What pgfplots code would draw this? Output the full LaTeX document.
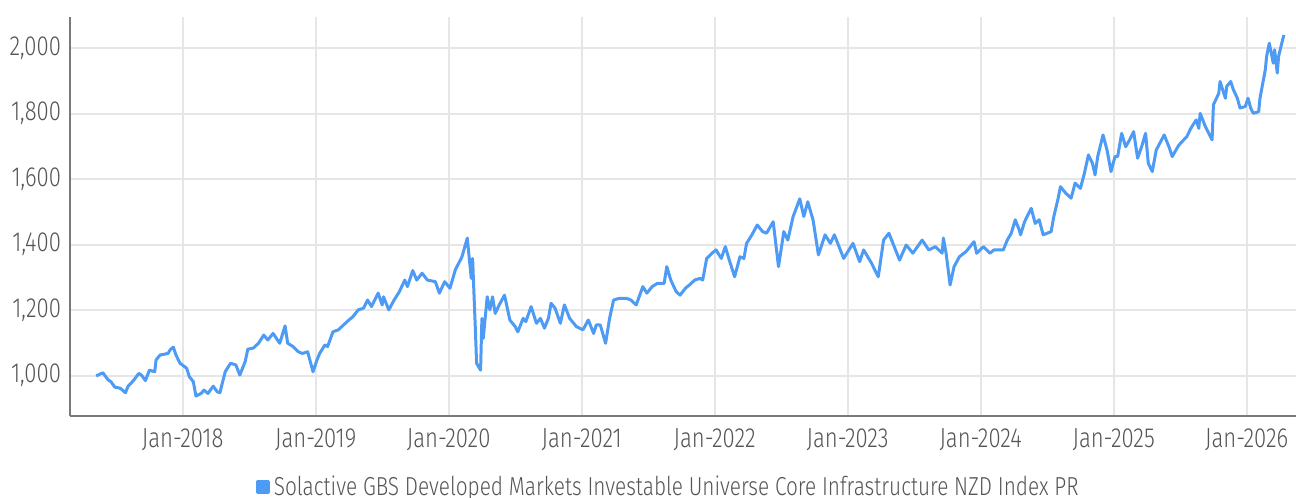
\documentclass[border=0pt]{standalone}
\usepackage{pgfplots}
\pgfplotsset{compat=1.18}
\usepackage{fontspec}
\setmainfont{Fira Sans Light}[FakeStretch=0.8]
\definecolor{lineblue}{HTML}{4D9BF5}
\definecolor{gridgray}{HTML}{E6E6E6}
\definecolor{axisgray}{HTML}{7A7A7A}
\definecolor{textgray}{HTML}{555555}

\pgfplotstableread{
x y
2017.35 999
2017.40 1009
2017.44 987
2017.46 982
2017.49 965
2017.53 962
2017.57 948
2017.59 968
2017.63 985
2017.67 1007
2017.69 1002
2017.72 985
2017.75 1017
2017.79 1012
2017.80 1048
2017.83 1063
2017.89 1068
2017.91 1081
2017.93 1087
2017.95 1063
2017.98 1038
2018.03 1023
2018.05 997
2018.08 982
2018.10 938
2018.14 946
2018.16 956
2018.19 946
2018.23 968
2018.26 951
2018.28 948
2018.32 1012
2018.36 1038
2018.40 1033
2018.43 1002
2018.47 1043
2018.49 1081
2018.53 1084
2018.57 1099
2018.61 1124
2018.64 1109
2018.68 1129
2018.70 1117
2018.73 1099
2018.77 1152
2018.79 1099
2018.83 1089
2018.87 1073
2018.90 1068
2018.94 1073
2018.98 1012
2019.01 1048
2019.03 1068
2019.07 1094
2019.09 1089
2019.13 1134
2019.17 1140
2019.21 1155
2019.25 1170
2019.28 1180
2019.32 1201
2019.36 1206
2019.39 1231
2019.42 1211
2019.47 1252
2019.50 1216
2019.51 1241
2019.55 1201
2019.59 1231
2019.63 1257
2019.67 1292
2019.69 1272
2019.73 1321
2019.76 1292
2019.80 1313
2019.84 1292
2019.90 1287
2019.93 1252
2019.97 1287
2020.01 1267
2020.05 1323
2020.10 1363
2020.14 1420
2020.17 1297
2020.18 1358
2020.20 1150
2020.21 1038
2020.24 1017
2020.25 1175
2020.26 1114
2020.29 1241
2020.31 1201
2020.33 1241
2020.35 1190
2020.38 1216
2020.42 1246
2020.46 1170
2020.50 1150
2020.52 1134
2020.56 1175
2020.58 1165
2020.62 1211
2020.66 1160
2020.69 1175
2020.72 1145
2020.75 1175
2020.77 1221
2020.80 1206
2020.84 1160
2020.87 1216
2020.91 1175
2020.96 1150
2021.01 1140
2021.05 1170
2021.09 1129
2021.11 1155
2021.14 1155
2021.18 1099
2021.21 1175
2021.24 1231
2021.28 1236
2021.34 1236
2021.37 1231
2021.41 1216
2021.46 1272
2021.49 1252
2021.53 1272
2021.57 1282
2021.62 1282
2021.64 1333
2021.67 1292
2021.71 1257
2021.74 1246
2021.78 1267
2021.81 1277
2021.85 1292
2021.89 1297
2021.91 1292
2021.94 1358
2021.98 1374
2022.01 1384
2022.05 1358
2022.08 1394
2022.11 1353
2022.15 1302
2022.19 1363
2022.22 1358
2022.24 1404
2022.28 1430
2022.32 1460
2022.36 1440
2022.39 1435
2022.44 1470
2022.48 1333
2022.52 1440
2022.55 1414
2022.59 1486
2022.64 1540
2022.67 1486
2022.70 1531
2022.74 1475
2022.78 1369
2022.83 1430
2022.87 1404
2022.90 1430
2022.97 1358
2023.04 1404
2023.09 1348
2023.12 1384
2023.18 1343
2023.23 1302
2023.27 1414
2023.31 1435
2023.35 1394
2023.39 1353
2023.44 1399
2023.49 1374
2023.56 1414
2023.61 1384
2023.66 1394
2023.71 1374
2023.72 1420
2023.74 1374
2023.77 1277
2023.80 1333
2023.84 1363
2023.89 1379
2023.95 1409
2023.97 1374
2024.02 1394
2024.07 1374
2024.10 1384
2024.17 1384
2024.20 1414
2024.23 1435
2024.26 1476
2024.29 1445
2024.30 1430
2024.33 1470
2024.38 1511
2024.41 1465
2024.44 1476
2024.47 1430
2024.53 1440
2024.55 1486
2024.58 1537
2024.60 1577
2024.64 1557
2024.68 1542
2024.71 1588
2024.75 1572
2024.78 1618
2024.81 1674
2024.84 1649
2024.86 1613
2024.88 1669
2024.92 1735
2024.95 1689
2024.98 1623
2025.01 1669
2025.03 1669
2025.06 1740
2025.09 1699
2025.12 1720
2025.15 1745
2025.18 1664
2025.21 1699
2025.24 1740
2025.26 1649
2025.29 1623
2025.32 1689
2025.38 1735
2025.42 1694
2025.44 1669
2025.49 1704
2025.55 1730
2025.58 1755
2025.62 1781
2025.64 1755
2025.65 1801
2025.69 1760
2025.74 1720
2025.75 1827
2025.79 1862
2025.80 1898
2025.84 1847
2025.85 1883
2025.88 1898
2025.90 1873
2025.93 1847
2025.95 1817
2025.99 1822
2026.01 1847
2026.03 1817
2026.05 1801
2026.09 1806
2026.10 1847
2026.14 1934
2026.15 1975
2026.17 2015
2026.20 1954
2026.21 1995
2026.23 1924
2026.24 1975
2026.27 2025
2026.28 2040
}\indexdata

\begin{document}
\begin{tikzpicture}
\path[use as bounding box] (-35pt,-41pt) rectangle (613pt,208pt);
\begin{axis}[
    at={(0,0)}, anchor=south west,
    scale only axis,
    width=613pt, height=199.5pt,
    xmin=2017.153, xmax=2026.371,
    ymin=877, ymax=2095,
    axis x line*=bottom, axis y line*=left,
    axis line style={axisgray, line width=1.2pt},
    x axis line style={-}, y axis line style={-},
    xtick={2018,2019,2020,2021,2022,2023,2024,2025,2026},
    xticklabels={Jan-2018,Jan-2019,Jan-2020,Jan-2021,Jan-2022,Jan-2023,Jan-2024,Jan-2025,Jan-2026},
    ytick={1000,1200,1400,1600,1800,2000},
    major tick length=0pt,
    grid=major,
    grid style={gridgray, line width=1pt},
    tick label style={textgray, font=\fontsize{13.8pt}{16pt}\selectfont},
    /pgf/number format/assume math mode=true,
    /pgf/number format/1000 sep={,},
    yticklabel style={xshift=-1pt},
    xticklabel style={yshift=-3pt},
    legend style={at={(0.489,-0.178)}, anchor=center, draw=none, fill=none,
        font=\fontsize{13pt}{16pt}\selectfont, text=textgray,
        inner sep=0pt, legend cell align=left},
    legend image code/.code={\fill[lineblue] (0pt,-2.6pt) rectangle (5.2pt,2.6pt);},
    clip=false,
]
\addplot[lineblue, line width=1.5pt, line join=round] table[x=x,y=y] {\indexdata};
\addlegendentry{Solactive GBS Developed Markets Investable Universe Core Infrastructure NZD Index PR}
\end{axis}
\end{tikzpicture}
\end{document}
